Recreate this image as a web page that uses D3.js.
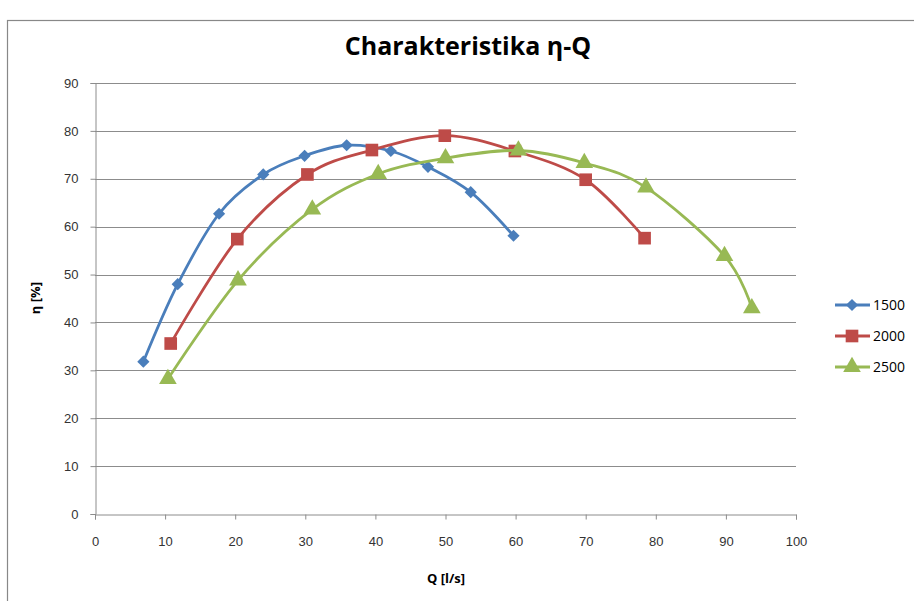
<!DOCTYPE html>
<html>
<head>
<meta charset="utf-8">
<script src="https://cdn.jsdelivr.net/npm/d3@7"></script>
<style>
  body { margin: 0; background: #fff; }
  svg { font-family: "Open Sans", "Noto Sans", sans-serif; }
</style>
</head>
<body>
<div id="chart"></div>
<script>
// values
const seriesNames = ["1500", "2000", "2500"];
const q1500 = [6.9, 11.8, 17.7, 24.0, 29.9, 35.9, 42.2, 47.5, 53.6, 59.7];
const eta1500 = [31.8, 48.0, 62.7, 70.9, 74.8, 77.0, 75.8, 72.5, 67.2, 58.1];
const q2000 = [10.8, 20.3, 30.3, 39.5, 49.9, 59.9, 70.0, 78.4];
const eta2000 = [35.6, 57.4, 70.9, 76.0, 79.0, 75.8, 69.8, 57.6];
const q2500 = [10.4, 20.4, 31.0, 40.4, 50.0, 60.4, 69.8, 78.6, 89.8, 93.7];
const eta2500 = [28.2, 48.8, 63.6, 71.0, 74.3, 75.9, 73.3, 68.2, 53.9, 43.0];
const xTicks = [0, 10, 20, 30, 40, 50, 60, 70, 80, 90, 100];
const yTicks = [0, 10, 20, 30, 40, 50, 60, 70, 80, 90];

const W = 914, H = 601;
const colors = ["#4A7EBB", "#BE4B48", "#98B954"];
const symbols = [d3.symbolDiamond2, d3.symbolSquare, d3.symbolTriangle];
const symSize = [95, 160, 135];

const series = [
    {name: seriesNames[0], q: q1500, eta: eta1500},
    {name: seriesNames[1], q: q2000, eta: eta2000},
    {name: seriesNames[2], q: q2500, eta: eta2500}
];

const svg = d3.select("#chart").append("svg")
    .attr("width", W)
    .attr("height", H);

// chart frame
svg.append("rect")
    .attr("x", 7.5).attr("y", 20.5)
    .attr("width", 920).attr("height", 600)
    .attr("fill", "none")
    .attr("stroke", "#888")
    .attr("stroke-width", 1.2);

const x = d3.scaleLinear().domain([0, 100]).range([95, 796]);
const y = d3.scaleLinear().domain([0, 90]).range([514, 83]);

// gridlines
svg.append("g")
    .selectAll("line")
    .data(yTicks.filter(t => t > 0))
    .enter().append("line")
    .attr("x1", x(0)).attr("x2", x(100))
    .attr("y1", d => Math.round(y(d)) + 0.5)
    .attr("y2", d => Math.round(y(d)) + 0.5)
    .attr("stroke", "#8c8c8c")
    .attr("stroke-width", 1);

// axes
const xAxis = svg.append("g")
    .attr("transform", "translate(0," + (Math.round(y(0)) + 0.5) + ")")
    .call(d3.axisBottom(x).tickValues(xTicks).tickSize(5).tickPadding(17));
const yAxis = svg.append("g")
    .attr("transform", "translate(" + (Math.round(x(0)) + 0.5) + ",0)")
    .call(d3.axisLeft(y).tickValues(yTicks).tickSize(5).tickPadding(12));

[xAxis, yAxis].forEach(function (a) {
    a.select(".domain").attr("stroke", "#8c8c8c");
    a.selectAll(".tick line").attr("stroke", "#8c8c8c");
    a.selectAll(".tick text")
        .attr("fill", "#333")
        .style("font-size", "13px");
});

// curves
const line = d3.line()
    .x(d => x(d[0]))
    .y(d => y(d[1]))
    .curve(d3.curveCardinal.tension(0));

series.forEach(function (s, i) {
    const pts = s.q.map((v, j) => [v, s.eta[j]]);
    svg.append("path")
        .datum(pts)
        .attr("fill", "none")
        .attr("stroke", colors[i])
        .attr("stroke-width", 2.8)
        .attr("stroke-linejoin", "round")
        .attr("d", line);

    svg.append("g")
        .selectAll("path")
        .data(pts)
        .enter().append("path")
        .attr("d", d3.symbol().type(symbols[i]).size(symSize[i]))
        .attr("transform", d => "translate(" + x(d[0]) + "," + y(d[1]) + ")")
        .attr("fill", colors[i]);
});

// title
svg.append("text")
    .attr("x", 468).attr("y", 55)
    .attr("text-anchor", "middle")
    .style("font-size", "25px")
    .style("font-weight", "bold")
    .attr("fill", "#000")
    .text("Charakteristika η-Q");

// axis titles
svg.append("text")
    .attr("x", 446).attr("y", 583)
    .attr("text-anchor", "middle")
    .style("font-size", "13px")
    .style("font-weight", "bold")
    .text("Q [l/s]");

svg.append("text")
    .attr("transform", "translate(40,298) rotate(-90)")
    .attr("text-anchor", "middle")
    .style("font-size", "13px")
    .style("font-weight", "bold")
    .text("η [%]");

// legend
const legend = svg.append("g");
series.forEach(function (s, i) {
    const ly = 305 + i * 31;
    legend.append("line")
        .attr("x1", 835).attr("x2", 870)
        .attr("y1", ly).attr("y2", ly)
        .attr("stroke", colors[i])
        .attr("stroke-width", 2.8);
    legend.append("path")
        .attr("d", d3.symbol().type(symbols[i]).size(symSize[i]))
        .attr("transform", "translate(852," + ly + ")")
        .attr("fill", colors[i]);
    legend.append("text")
        .attr("x", 873).attr("y", ly + 5)
        .style("font-size", "14px")
        .attr("fill", "#000")
        .text(s.name);
});
</script>
</body>
</html>
